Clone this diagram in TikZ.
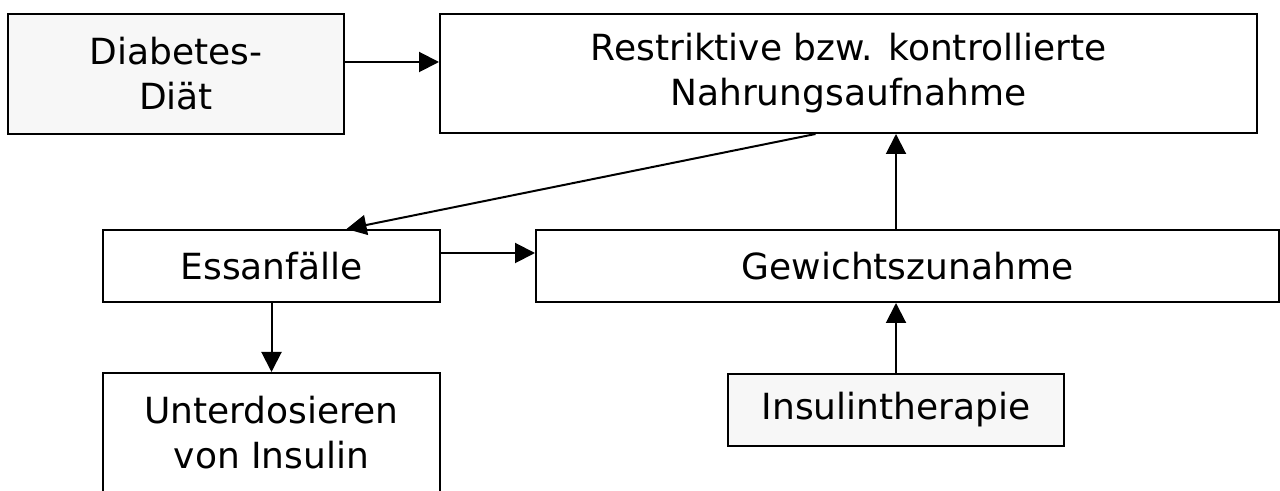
\documentclass[tikz,border=0pt]{standalone}
\usepackage{fontspec}
\setmainfont{DejaVu Sans}
\usepackage{tikz}
\usetikzlibrary{arrows.meta,positioning,calc}
\usepackage{xcolor}
\definecolor{boxgray}{RGB}{247,247,247}
\tikzstyle{box} = [draw, line width=1pt, align=center, inner sep=0pt, font=\fontsize{18}{22.5}\selectfont]
\tikzstyle{arrow} = [line width=1pt, -{Triangle[length=10pt, width=10pt]}]

\begin{document}
\begin{tikzpicture}[x=0.5pt, y=-0.5pt]
    \useasboundingbox (0,0) rectangle (1280,491);

    % Boxes
    \node[box, fill=boxgray, minimum width=168pt, minimum height=60pt] (diab) at (176,74) {Diabetes-\\Diät};
    \node[box, minimum width=408.5pt, minimum height=59.5pt] (restr) at (848.5,73.5) {Restriktive bzw. kontrollierte\\Nahrungsaufnahme};
    \node[box, minimum width=168.5pt, minimum height=36pt] (ess) at (271.5,266) {Essanfälle};
    \node[box, minimum width=371.5pt, minimum height=36pt] (gew) at (907.5,266) {Gewichtszunahme};
    \node[box, minimum width=168.5pt, minimum height=60pt] (unter) at (271.5,433) {Unterdosieren\\von Insulin};
    \node[box, fill=boxgray, minimum width=168pt, minimum height=36pt] (ins) at (896,410) {Insulintherapie};

    % Arrows
    \draw[arrow] ([yshift=6pt]diab.east) -- ([yshift=6pt]diab.east -| restr.west);
    \draw[arrow] ([xshift=-16.5pt]restr.south) -- ([xshift=37.5pt]ess.north);
    \draw[arrow] ([yshift=6.5pt]ess.east) -- ([yshift=6.5pt]ess.east -| gew.west);
    \draw[arrow] (ess.south) -- (unter.north);
    \draw[arrow] (ins.north |- gew.north) -- (ins.north |- restr.south);
    \draw[arrow] (ins.north) -- (ins.north |- gew.south);
\end{tikzpicture}
\end{document}
